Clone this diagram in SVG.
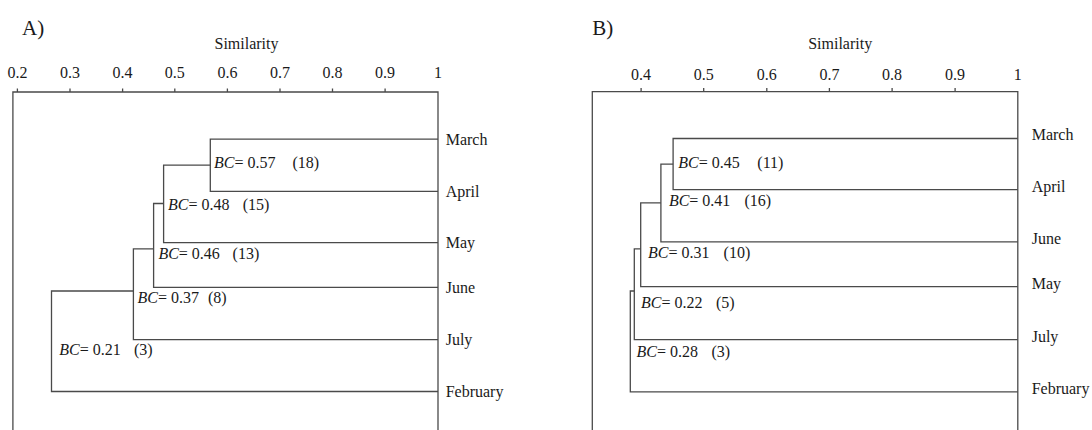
<svg xmlns="http://www.w3.org/2000/svg" width="1092" height="430" viewBox="0 0 1092 430">
<style>
text{font-family:"Liberation Serif","Times New Roman",serif;font-size:16px;fill:#1a1a1a}
.t{text-anchor:middle}
.ttl{font-size:21px}
.ln{fill:none;stroke:#4a4a4a;stroke-width:1.3}
.i{font-style:italic}
</style>
<rect width="1092" height="430" fill="#fff"/>

<!-- Panel A -->
<g id="panelA-axis">
<text x="22" y="35" class="ttl">A)</text>
<text x="246.5" y="49" class="t">Similarity</text>
<g class="t">
<text x="17.4" y="78">0.2</text><text x="70" y="78">0.3</text><text x="122.6" y="78">0.4</text><text x="174.8" y="78">0.5</text><text x="227.4" y="78">0.6</text><text x="280" y="78">0.7</text><text x="332.5" y="78">0.8</text><text x="385.1" y="78">0.9</text><text x="438" y="78">1</text>
</g>
<path class="ln" d="M12.9,430V92H438V430M17.4,92v-3.5M70,92v-3.5M122.6,92v-3.5M174.8,92v-3.5M227.4,92v-3.5M280,92v-3.5M332.5,92v-3.5M385.1,92v-3.5"/>
</g>
<g id="panelA-connectors">
<path class="ln" d="M438,139.1H210.3V191.4H438"/>
<path class="ln" d="M210.3,165.2H163.6V242.6H438"/>
<path class="ln" d="M163.6,203.5H153.6V287.4H438"/>
<path class="ln" d="M153.6,248.8H133.4V339.6H438"/>
<path class="ln" d="M133.4,291H51.5V391.5H438"/>
</g>
<g id="panelA-leaves">
<text x="445.7" y="144.6">March</text>
<text x="445.7" y="196.6">April</text>
<text x="445.7" y="247.8">May</text>
<text x="445.7" y="292.6">June</text>
<text x="445.7" y="344.8">July</text>
<text x="445.7" y="396.7">February</text>
</g>
<g id="panelA-labels">
<text x="214" y="168"><tspan class="i">BC</tspan>= 0.57<tspan x="292.5">(18)</tspan></text>
<text x="168" y="209.5"><tspan class="i">BC</tspan>= 0.48<tspan x="242.7">(15)</tspan></text>
<text x="158.4" y="259.3"><tspan class="i">BC</tspan>= 0.46<tspan x="232.6">(13)</tspan></text>
<text x="137.5" y="303"><tspan class="i">BC</tspan>= 0.37<tspan x="207.9">(8)</tspan></text>
<text x="59.2" y="354.6"><tspan class="i">BC</tspan>= 0.21<tspan x="134">(3)</tspan></text>
</g>

<!-- Panel B -->
<g id="panelB-axis">
<text x="592.3" y="35" class="ttl">B)</text>
<text x="840.2" y="49" class="t">Similarity</text>
<g class="t">
<text x="641.1" y="80">0.4</text><text x="703.7" y="80">0.5</text><text x="766.8" y="80">0.6</text><text x="829.4" y="80">0.7</text><text x="892.1" y="80">0.8</text><text x="955.1" y="80">0.9</text><text x="1017.8" y="80">1</text>
</g>
<path class="ln" d="M592.3,430V91.6H1017.8V430M641.1,91.6v-3.5M703.7,91.6v-3.5M766.8,91.6v-3.5M829.4,91.6v-3.5M892.1,91.6v-3.5M955.1,91.6v-3.5"/>
</g>
<g id="panelB-connectors">
<path class="ln" d="M1017.8,138.5H673.1V189.6H1017.8"/>
<path class="ln" d="M673.1,164.2H660.9V241.9H1017.8"/>
<path class="ln" d="M660.9,202.9H640.7V286.7H1017.8"/>
<path class="ln" d="M640.7,248.8H634.3V339.6H1017.8"/>
<path class="ln" d="M634.3,291H630.3V391.9H1017.8"/>
</g>
<g id="panelB-leaves">
<text x="1031.7" y="140.4">March</text>
<text x="1031.7" y="191.6">April</text>
<text x="1031.7" y="244.4">June</text>
<text x="1031.7" y="288.8">May</text>
<text x="1031.7" y="341.6">July</text>
<text x="1031.7" y="393.9">February</text>
</g>
<g id="panelB-labels">
<text x="678.3" y="168"><tspan class="i">BC</tspan>= 0.45<tspan x="757.3">(11)</tspan></text>
<text x="668.9" y="206.3"><tspan class="i">BC</tspan>= 0.41<tspan x="744.5">(16)</tspan></text>
<text x="648" y="257.5"><tspan class="i">BC</tspan>= 0.31<tspan x="723.6">(10)</tspan></text>
<text x="641" y="308.3"><tspan class="i">BC</tspan>= 0.22<tspan x="715.9">(5)</tspan></text>
<text x="636.5" y="357"><tspan class="i">BC</tspan>= 0.28<tspan x="711.4">(3)</tspan></text>
</g>
</svg>
